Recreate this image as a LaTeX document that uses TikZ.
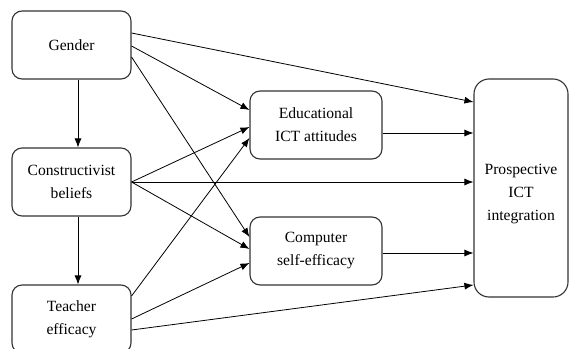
\documentclass[tikz,border=0pt]{standalone}
\usepackage{fontspec}
\setmainfont{Liberation Serif}
\usetikzlibrary{arrows.meta}
\begin{document}
\begin{tikzpicture}[x=1pt,y=-1pt,
  box/.style={draw=black!80,line width=1.1pt,rounded corners=10pt,align=center,
    font=\fontsize{15.6pt}{23pt}\selectfont,inner sep=0pt},
  sbox/.style={box,minimum width=119pt,minimum height=68pt},
  mbox/.style={box,minimum width=132pt,minimum height=68pt},
  arr/.style={line width=0.8pt,-{Latex[length=9pt,width=7pt]}}]
\clip (0,0) rectangle (570,348);
\useasboundingbox (0,0) rectangle (570,348);
\node[sbox] (gen) at (71.5,45) {Gender};
\node[sbox] (con) at (71.5,182) {Constructivist\\beliefs};
\node[sbox] (tea) at (71.5,319) {Teacher\\efficacy};
\node[mbox] (edu) at (316,125) {Educational\\ICT attitudes};
\node[mbox] (com) at (316,251) {Computer\\self-efficacy};
\node[box,minimum width=94pt,minimum height=218pt,rounded corners=15pt,
  label={[align=center,font=\fontsize{15.6pt}{23pt}\selectfont,yshift=-6pt]center:Prospective\\ICT\\integration}] (pro) at (521,188) {};
% vertical
\draw[arr] ([xshift=6.5pt]gen.south) -- ([xshift=6.5pt]con.north);
\draw[arr] ([xshift=6.5pt]con.south) -- ([xshift=6.5pt]tea.north);
% gender
\draw[arr] ([yshift=12pt]gen.east) -- ([yshift=86pt]pro.west);
\draw[arr] ([yshift=-1pt]gen.east) -- ([yshift=15pt]edu.west);
\draw[arr] ([yshift=-12pt]gen.east) -- ([yshift=14pt]com.west);
% constructivist
\draw[arr] (con.east) -- ([yshift=-2pt]edu.west);
\draw[arr] (con.east) -- ([yshift=6pt]pro.west);
\draw[arr] (con.east) -- ([yshift=2pt]com.west);
% teacher
\draw[arr] ([yshift=23pt]tea.east) -- ([yshift=-13pt]edu.west);
\draw[arr] (tea.east) -- ([yshift=-12pt]com.west);
\draw[arr] ([yshift=-11pt]tea.east) -- ([yshift=-97pt]pro.west);
% mediators
\draw[arr] ([yshift=-8pt]edu.east) -- ([yshift=55pt]pro.west);
\draw[arr] ([yshift=-2pt]com.east) -- ([yshift=-65pt]pro.west);
\end{tikzpicture}
\end{document}
